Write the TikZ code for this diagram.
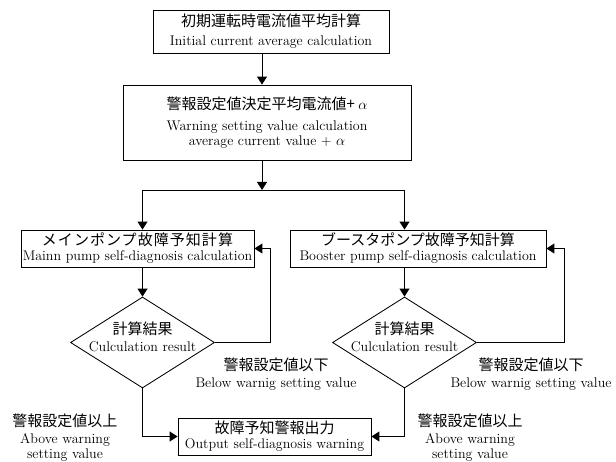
\documentclass[tikz,border=0pt]{standalone}
\usepackage{fontspec}
\newfontfamily\jp{Noto Sans CJK JP}
\usetikzlibrary{shapes.geometric,arrows.meta}

\tikzset{
  box/.style={draw, line width=0.85pt, inner sep=0pt, align=center,
    font=\fontsize{14}{15}\selectfont},
  decision/.style={draw, shape=diamond, line width=0.85pt, inner sep=0pt},
  lbl/.style={inner sep=0pt, align=center, font=\fontsize{14}{15}\selectfont},
  arr/.style={line width=0.9pt, -{Triangle[length=8pt,width=10pt]}},
  conn/.style={line width=0.9pt}
}
\newcommand{\jpl}[1]{{\jp\fontsize{15}{15}\selectfont #1}}

\begin{document}
\begin{tikzpicture}[x=1pt,y=-1pt]
\useasboundingbox (0,0) rectangle (616,462);

% process boxes
\node[box, minimum width=236pt, minimum height=43pt] (b1) at (271,31.5)
  {\jpl{初期運転時電流値平均計算}\\[4pt]Initial current average calculation};
\node[box, minimum width=288pt, minimum height=75pt] (b2) at (267,122.5)
  {\jpl{警報設定値決定平均電流値+ }{\fontsize{15}{15}\selectfont$\alpha$}\\[6pt]
   Warning setting value calculation\\average current value + $\alpha$};
\node[box, minimum width=233pt, minimum height=37pt] (b3) at (137.5,248.5)
  {\jpl{\addfontfeature{LetterSpace=7}メインポンプ故障予知計算}\\Mainn pump self-diagnosis calculation};
\node[box, minimum width=256pt, minimum height=37pt] (b4) at (418,248.5)
  {\jpl{ブースタポンプ故障予知計算}\\Booster pump self-diagnosis calculation};
\node[box, minimum width=193pt, minimum height=37pt] (out) at (274.5,436.5)
  {\jpl{故障予知警報出力}\\Output self-diagnosis warning};

% decisions
\node[decision, minimum width=144pt, minimum height=91pt] (d1) at (142.5,342.5) {};
\node[lbl] (d1t) at (142.5,337) {\jpl{計算結果}\\[2pt]Culculation result};
\node[decision, minimum width=144pt, minimum height=91pt] (d2) at (404.5,342.5) {};
\node[lbl] (d2t) at (404.5,337) {\jpl{計算結果}\\[2pt]Culculation result};

% branch labels
\node[lbl] (lo1) at (276,374) {\jpl{警報設定値以下}\\[2pt]Below warnig setting value};
\node[lbl] (lo2) at (531,374) {\jpl{警報設定値以下}\\[2pt]Below warnig setting value};
\node[lbl] (hi1) at (65,438) {\jpl{警報設定値以上}\\[2pt]Above warning\\setting value};
\node[lbl] (hi2) at (470,438) {\jpl{警報設定値以上}\\[2pt]Above warning\\setting value};

% routing points
\coordinate (split) at (262,190);
\coordinate (fb1) at (270,342.5);
\coordinate (fb2) at (564,342.5);

% connectors
\draw[arr] (b1.south -| split) -- (b2.north -| split);
\draw[arr] (b2.south -| split) -- (split);
\draw[arr] (split) -| (b3.north -| d1.north);
\draw[arr] (split) -| (b4.north -| d2.north);
\draw[arr] (b3.south -| d1.north) -- (d1.north);
\draw[arr] (b4.south -| d2.north) -- (d2.north);
\draw[arr] (d1.east) -- (fb1) |- (b3.east);
\draw[arr] (d2.east) -- (fb2) |- (b4.east);
\draw[arr] (d1.south) |- (out.west);
\draw[arr] (d2.south) |- (out.east);
\end{tikzpicture}
\end{document}
